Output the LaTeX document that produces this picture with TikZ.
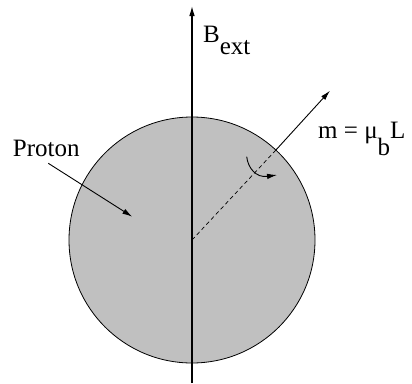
\documentclass[tikz,border=0pt]{standalone}
\usepackage{fontspec}
\setmainfont{Liberation Serif}
\usetikzlibrary{arrows.meta}
\definecolor{protongray}{RGB}{192,192,192}
\tikzset{
  lbl/.style={inner sep=0pt, anchor=base west, font=\fontsize{25}{30}\selectfont},
  axis/.style={line width=1.1pt, ->},
  thinarrow/.style={line width=0.9pt, ->},
}
\begin{document}
\begin{tikzpicture}[x=1pt, y=-1pt, >={Latex[length=10pt,width=5.5pt]}]
\useasboundingbox (0,0) rectangle (412,383);
% Kugel, Mittelpunkt und Achse
\coordinate (C) at (192,240);
\node[circle, draw, line width=0.8pt, fill=protongray, minimum size=246pt, inner sep=0pt] (proton) at (C) {};
\coordinate (Bbot) at (192,383);
\coordinate (Btop) at (192,6);
\draw[axis] (Bbot) -- (Btop);
\node[lbl] (bext) at (203,42.7) {B\raisebox{-11.5pt}{ext}};
% magnetisches Moment
\coordinate (Mtip) at (330,90.7);
\draw[line width=0.7pt, dashed, dash pattern=on 4pt off 3pt] (C) -- (proton.47);
\draw[thinarrow] (proton.47) -- (Mtip);
\node[lbl] (mom) at (318,138.3) {m = μ\raisebox{-16.7pt}{b}L};
% Drehung um die Achse
\coordinate (Ra) at (246.7,156.7);
\coordinate (Rb) at (277,175);
\draw[thinarrow] (Ra) .. controls (248,168) and (256,178) .. (Rb);
% Beschriftung
\node[lbl] (plabel) at (12.7,156.7) {Proton};
\coordinate (Pout) at (48.3,163.3);
\coordinate (Pin) at (132.3,216.7);
\draw[thinarrow] (Pout) -- (Pin);
\end{tikzpicture}
\end{document}
